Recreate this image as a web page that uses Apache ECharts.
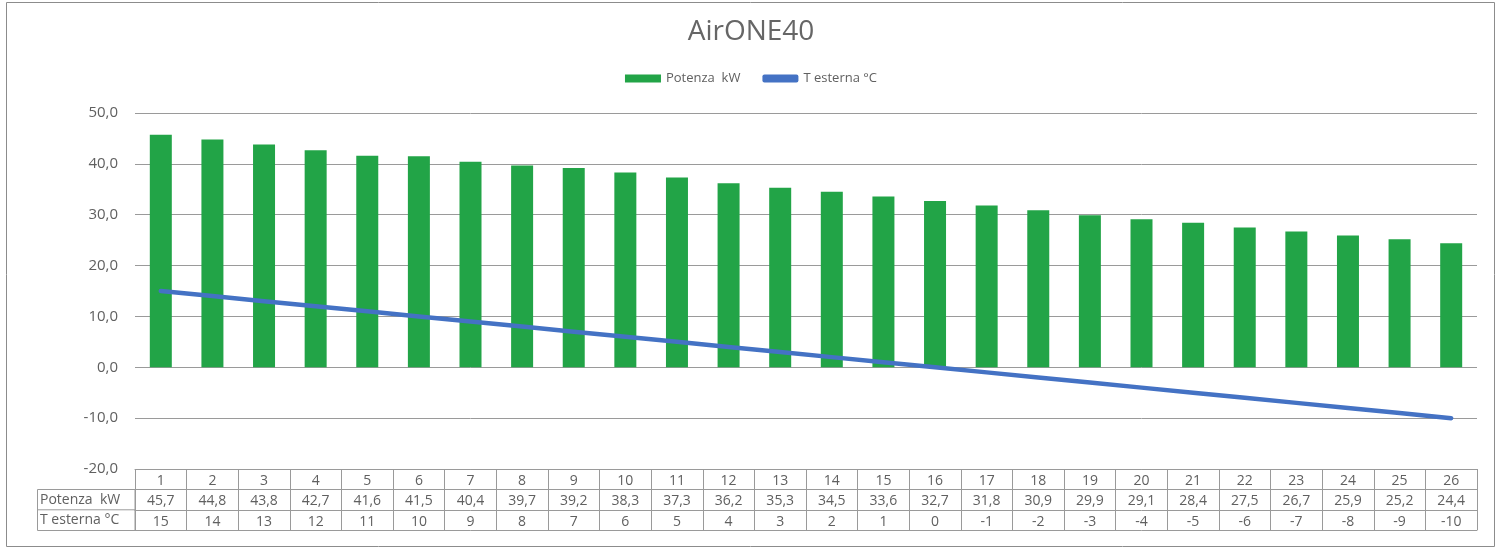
<!DOCTYPE html>
<html><head><meta charset="utf-8">
<script src="https://cdn.jsdelivr.net/npm/echarts@6/dist/echarts.min.js"></script>
<style>html,body{margin:0;padding:0;background:#fff}#c{width:1502px;height:553px}</style>
</head><body><div id="c"></div>
<script>
const categories = ['1','2','3','4','5','6','7','8','9','10','11','12','13','14','15','16','17','18','19','20','21','22','23','24','25','26'];
const potenza = [45.7,44.8,43.8,42.7,41.6,41.5,40.4,39.7,39.2,38.3,37.3,36.2,35.3,34.5,33.6,32.7,31.8,30.9,29.9,29.1,28.4,27.5,26.7,25.9,25.2,24.4];
const tEsterna = [15,14,13,12,11,10,9,8,7,6,5,4,3,2,1,0,-1,-2,-3,-4,-5,-6,-7,-8,-9,-10];
const seriesNames = ['Potenza  kW','T esterna °C'];
const yTicks = [-20,-10,0,10,20,30,40,50];

const FONT = '"Open Sans", "Noto Sans", sans-serif';
const TXT = '#606060';
const LINEC = '#9a9a9a';
const fmt = v => v.toFixed(1).replace('.', ',');

const chart = echarts.init(document.getElementById('c'));
const extraAxis = off => ({
  type:'category', data:categories, position:'bottom', offset:off, gridIndex:0,
  axisLine:{show:true, onZero:false, lineStyle:{color:LINEC, width:1}},
  axisTick:{show:false}, axisLabel:{show:false}, splitLine:{show:false}
});
chart.setOption({
  animation:false,
  title:{text:'AirONE40', left:'center', top:13, textStyle:{fontFamily:FONT, fontSize:28, fontWeight:'normal', color:'#666'}},
  legend:{top:67, left:'center', itemWidth:36, itemHeight:8, itemGap:22,
    textStyle:{fontFamily:FONT, fontSize:13, color:TXT},
    data:[{name:seriesNames[0], icon:'rect'},{name:seriesNames[1], icon:'roundRect'}]},
  grid:{left:135, right:25, top:113, bottom:84, containLabel:false},
  xAxis:[{
    type:'category', data:categories, position:'bottom',
    axisLine:{show:true, onZero:false, lineStyle:{color:LINEC, width:1}},
    axisTick:{show:true, length:61, lineStyle:{color:LINEC}},
    axisLabel:{margin:2, interval:0, fontFamily:FONT, color:TXT,
      formatter:(v,i)=>`{a|${v}}\n{a|${fmt(potenza[i])}}\n{a|${tEsterna[i]}}`,
      rich:{a:{fontFamily:FONT, fontSize:14, color:TXT, lineHeight:20.3, align:'center'}}},
    splitLine:{show:false}
  }, extraAxis(20.5), extraAxis(40.8), extraAxis(61)],
  yAxis:{type:'value', min:-20, max:50, interval:10,
    axisLine:{show:false}, axisTick:{show:false},
    axisLabel:{fontFamily:FONT, fontSize:15, color:TXT, margin:17, formatter:v=>fmt(v)},
    splitLine:{lineStyle:{color:LINEC, width:1}}},
  series:[
    {name:seriesNames[0], type:'bar', data:potenza, barWidth:22, itemStyle:{color:'#22A447'}, z:2},
    {name:seriesNames[1], type:'line', data:tEsterna, symbol:'none', z:3,
      lineStyle:{color:'#4472C4', width:4.5, cap:'round'}, itemStyle:{color:'#4472C4'}}
  ],
  graphic:[
    {type:'rect', shape:{x:6.5, y:2.5, width:1488, height:544}, style:{fill:'none', stroke:'#8c8c8c', lineWidth:1}, silent:true},
    {type:'rect', shape:{x:37.5, y:489.5, width:97.5, height:41}, style:{fill:'none', stroke:LINEC, lineWidth:1}, silent:true},
    {type:'line', shape:{x1:37.5, y1:509.8, x2:135, y2:509.8}, style:{stroke:LINEC, lineWidth:1}, silent:true},
    {type:'text', x:40, y:500, style:{text:seriesNames[0], fontFamily:FONT, fontSize:14, fill:TXT, textVerticalAlign:'middle'}, silent:true},
    {type:'text', x:40, y:520, style:{text:seriesNames[1], fontFamily:FONT, fontSize:14, fill:TXT, textVerticalAlign:'middle'}, silent:true}
  ]
});
</script></body></html>
